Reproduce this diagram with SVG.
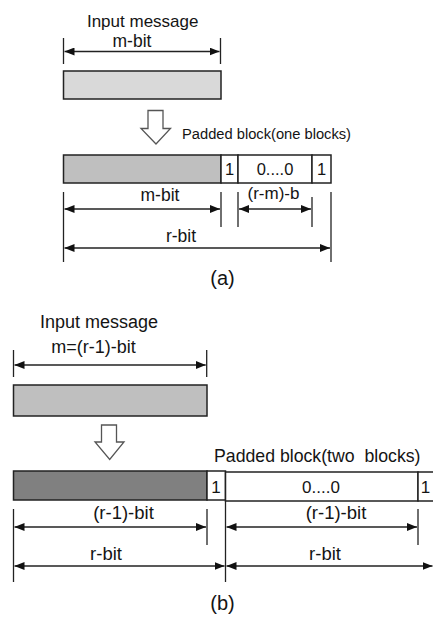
<svg xmlns="http://www.w3.org/2000/svg" width="433" height="618" viewBox="0 0 433 618">
<style>
text{font-family:"Liberation Sans",Arial,sans-serif;fill:#141414}
.c{text-anchor:middle}
.box{stroke:#222;stroke-width:1.5}
.tick{stroke:#222;stroke-width:1.3;fill:none}
.dim{stroke:#222;stroke-width:1.3;fill:none;marker-start:url(#ah);marker-end:url(#ah)}
.hollow{fill:#fff;stroke:#555;stroke-width:1.3}
</style>
<defs>
<marker id="ah" markerUnits="userSpaceOnUse" markerWidth="10" markerHeight="8" refX="10" refY="4" orient="auto-start-reverse">
<path d="M0,0 L10,4 L0,8 z" fill="#111"/>
</marker>
</defs>
<rect width="433" height="618" fill="#fff"/>

<!-- (a) -->
<g id="a-input">
<text class="c" x="142.7" y="26.5" font-size="17">Input message</text>
<text class="c" x="132" y="46.5" font-size="17.5">m-bit</text>
<rect class="box" x="63.5" y="71" width="157.5" height="28" fill="#d9d9d9"/>
</g>
<g id="a-arrow">
<polygon class="hollow" points="148,110.5 163,110.5 163,128.5 170.5,128.5 156,144 141,128.5 148,128.5"/>
</g>
<g id="a-padded">
<text x="182" y="139.3" font-size="14.7">Padded block(one blocks)</text>
<rect class="box" x="63.5" y="155" width="157.5" height="28" fill="#bfbfbf"/>
<rect class="box" x="221" y="155" width="17" height="28" fill="#fff"/>
<rect class="box" x="238" y="155" width="74" height="28" fill="#fff"/>
<rect class="box" x="312" y="155" width="19" height="28" fill="#fff"/>
<text class="c" x="229.5" y="175" font-size="16.5">1</text>
<text class="c" x="275" y="175" font-size="16.5">0....0</text>
<text class="c" x="321.5" y="175" font-size="16.5">1</text>
</g>
<g id="a-dims-labels">
<text class="c" x="160" y="200.5" font-size="17.5">m-bit</text>
<text class="c" x="273.5" y="199" font-size="17">(r-m)-b</text>
<text class="c" x="181" y="241.5" font-size="17.5">r-bit</text>
<text class="c" x="222.5" y="285" font-size="20">(a)</text>
</g>

<!-- (b) -->
<g id="b-input">
<text class="c" x="99" y="328" font-size="18">Input message</text>
<text class="c" x="93.5" y="353" font-size="18">m=(r-1)-bit</text>
<rect class="box" x="13.5" y="385" width="193.5" height="31" fill="#bfbfbf"/>
</g>
<g id="b-arrow">
<polygon class="hollow" points="101.5,425 116.5,425 116.5,442 124,442 109.7,459.5 95,442 101.5,442"/>
</g>
<g id="b-padded">
<text x="214" y="462" font-size="17.7" xml:space="preserve">Padded block(two  blocks)</text>
<rect class="box" x="13.5" y="471" width="193.5" height="29" fill="#808080"/>
<rect class="box" x="207" y="471" width="18.5" height="29" fill="#fff"/>
<rect class="box" x="225.5" y="472" width="192.5" height="29" fill="#fff"/>
<rect class="box" x="418" y="472" width="30" height="29" fill="#fff"/>
<text class="c" x="216" y="493" font-size="17">1</text>
<text class="c" x="321" y="493" font-size="17">0....0</text>
<text class="c" x="425.5" y="493" font-size="17">1</text>
</g>
<g id="b-dims-labels">
<text class="c" x="123.5" y="518.5" font-size="18.5">(r-1)-bit</text>
<text class="c" x="336" y="518.5" font-size="18.5">(r-1)-bit</text>
<text class="c" x="106" y="560" font-size="18.5">r-bit</text>
<text class="c" x="325" y="560" font-size="18.5">r-bit</text>
<text class="c" x="222.5" y="609.5" font-size="20">(b)</text>
</g>

<g id="connectors">
<!-- (a) top -->
<line class="tick" x1="63.5" y1="38" x2="63.5" y2="64"/>
<line class="tick" x1="220.5" y1="38" x2="220.5" y2="64"/>
<line class="dim" x1="64.5" y1="51.5" x2="219.5" y2="51.5"/>
<!-- (a) bottom -->
<line class="tick" x1="63.5" y1="192" x2="63.5" y2="262"/>
<line class="tick" x1="221" y1="192" x2="221" y2="227"/>
<line class="tick" x1="238" y1="192" x2="238" y2="227"/>
<line class="tick" x1="312" y1="197" x2="312" y2="227"/>
<line class="tick" x1="331" y1="192" x2="331" y2="262"/>
<line class="dim" x1="64.5" y1="209" x2="220" y2="209"/>
<line class="dim" x1="239" y1="209" x2="311" y2="209"/>
<line class="dim" x1="64.5" y1="248" x2="330" y2="248"/>
<!-- (b) top -->
<line class="tick" x1="13.5" y1="350" x2="13.5" y2="377"/>
<line class="tick" x1="206.7" y1="350" x2="206.7" y2="377"/>
<line class="dim" x1="14.5" y1="365" x2="205.7" y2="365"/>
<!-- (b) bottom -->
<line class="tick" x1="13.5" y1="509" x2="13.5" y2="582"/>
<line class="tick" x1="207" y1="509" x2="207" y2="545"/>
<line class="tick" x1="225.5" y1="501" x2="225.5" y2="582"/>
<line class="tick" x1="418" y1="509" x2="418" y2="545"/>
<line class="dim" x1="14.5" y1="527" x2="206" y2="527"/>
<line class="dim" x1="226.5" y1="527" x2="417" y2="527"/>
<line class="dim" x1="14.5" y1="566" x2="224.5" y2="566"/>
<line class="dim" x1="226.5" y1="566" x2="432.5" y2="566"/>
</g>
</svg>
